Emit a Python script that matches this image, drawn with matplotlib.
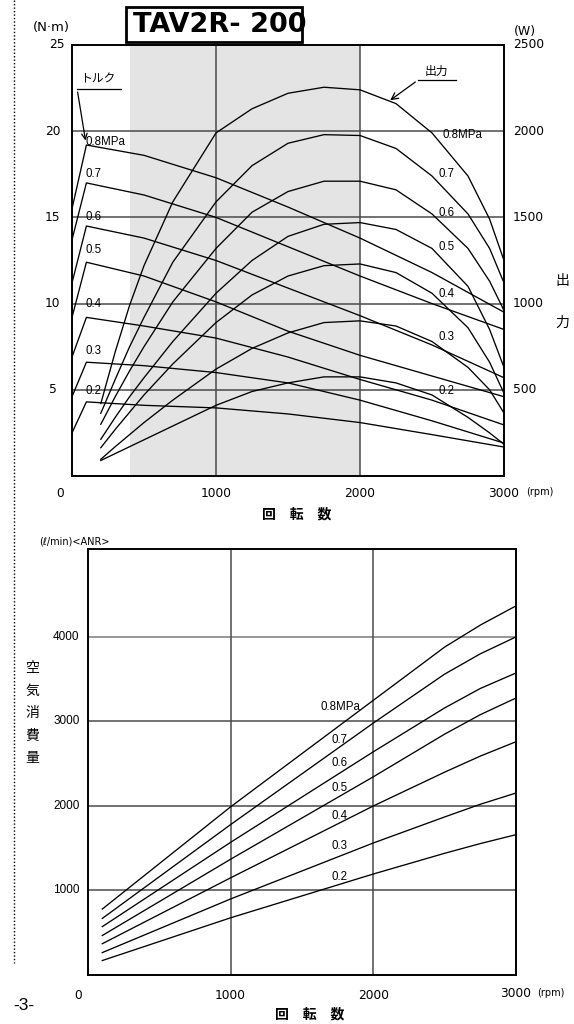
import matplotlib
matplotlib.use("Agg")
import matplotlib.pyplot as plt
from matplotlib.patches import Rectangle
from matplotlib.lines import Line2D

JP = ['Noto Sans CJK JP', 'DejaVu Sans']
plt.rcParams['font.family'] = ['DejaVu Sans', 'Noto Sans CJK JP']

# ---------------- data: torque / output (top chart) ----------------
pressures = ['0.8', '0.7', '0.6', '0.5', '0.4', '0.3', '0.2']

torque_rpm = [0, 100, 500, 1000, 1500, 2000, 2500, 3000]
torque = {
    '0.8': [15.5, 19.2, 18.6, 17.3, 15.6, 13.8, 11.8, 9.5],
    '0.7': [13.7, 17.0, 16.3, 15.0, 13.3, 11.6, 10.0, 8.5],
    '0.6': [11.2, 14.5, 13.8, 12.5, 10.9, 9.3, 7.6, 5.7],
    '0.5': [9.2, 12.4, 11.6, 10.1, 8.4, 7.0, 5.8, 4.6],
    '0.4': [6.9, 9.2, 8.7, 8.0, 6.9, 5.6, 4.4, 2.96],
    '0.3': [4.6, 6.6, 6.4, 6.0, 5.4, 4.4, 3.2, 1.91],
    '0.2': [2.5, 4.3, 4.1, 3.95, 3.6, 3.1, 2.4, 1.68],
}

power_rpm = [200, 300, 400, 500, 700, 1000, 1250, 1500, 1750, 2000, 2250, 2500, 2750, 2900, 3000]
power = {  # x100 W
    '0.8': [4.2, 7.2, 9.9, 12.2, 15.9, 19.9, 21.3, 22.2, 22.55, 22.4, 21.6, 19.9, 17.4, 14.9, 12.5],
    '0.7': [3.64, 5.6, 7.5, 9.2, 12.4, 15.9, 18.0, 19.3, 19.8, 19.75, 19.0, 17.4, 15.2, 13.2, 11.2],
    '0.6': [3.0, 4.6, 6.1, 7.5, 10.1, 13.2, 15.3, 16.5, 17.1, 17.1, 16.6, 15.2, 13.2, 11.3, 9.6],
    '0.5': [2.13, 3.4, 4.6, 5.7, 7.8, 10.6, 12.5, 13.9, 14.6, 14.7, 14.3, 13.2, 11.0, 8.5, 6.3],
    '0.4': [1.64, 2.7, 3.7, 4.7, 6.5, 8.9, 10.5, 11.6, 12.2, 12.3, 11.8, 10.6, 8.6, 6.6, 4.8],
    '0.3': [0.97, 1.7, 2.4, 3.1, 4.4, 6.2, 7.4, 8.3, 8.9, 9.0, 8.7, 7.8, 6.3, 5.0, 3.65],
    '0.2': [0.9, 1.3, 1.7, 2.1, 2.9, 4.1, 4.9, 5.4, 5.75, 5.75, 5.4, 4.7, 3.4, 2.5, 1.84],
}

torque_label_pos = [(97, 19.37), (97, 17.5), (97, 15.0), (97, 13.1), (97, 9.98), (97, 7.25), (97, 4.93)]
power_label_pos = [(2576, 19.78), (2542, 17.5), (2542, 15.25), (2542, 13.28), (2542, 10.56), (2542, 8.06), (2542, 4.93)]

top_left_ticks = [5, 10, 15, 20, 25]
top_right_ticks = [500, 1000, 1500, 2000, 2500]
rpm_ticks = [0, 1000, 2000, 3000]

# ---------------- data: air consumption (bottom chart) ----------------
air_rpm = [100, 1000, 2000, 2500, 2750, 3000]
air = {
    '0.8': [780, 1990, 3250, 3880, 4140, 4367],
    '0.7': [669, 1780, 2981, 3560, 3800, 4000],
    '0.6': [572, 1570, 2641, 3160, 3390, 3573],
    '0.5': [467, 1370, 2345, 2850, 3080, 3277],
    '0.4': [370, 1150, 2000, 2400, 2590, 2760],
    '0.3': [265, 900, 1562, 1870, 2020, 2153],
    '0.2': [171, 677, 1195, 1440, 1555, 1660],
}
air_label_pos = [(1766, 3172), (1766, 2781), (1766, 2509), (1766, 2213), (1766, 1882), (1766, 1527), (1766, 1160)]
air_ticks = [1000, 2000, 3000, 4000]

# ---------------- figure ----------------
W, H = 574, 1024
fig = plt.figure(figsize=(W / 100, H / 100), dpi=100)


def fx(x):
    return x / W


def fy(y):
    return 1 - y / H


GRID = '#4a4a4a'
LW = 0.95

# ---- top chart
ax1 = fig.add_axes([fx(72), fy(476), 432 / W, 431 / H])
ax1.set_xlim(0, 3000)
ax1.set_ylim(0, 25)
ax1.axvspan(400, 2000, color='#e4e4e4', lw=0, zorder=0)
for v in top_left_ticks[:-1]:
    ax1.axhline(v, color=GRID, lw=1.1, zorder=1)
for v in rpm_ticks[1:-1]:
    ax1.axvline(v, color=GRID, lw=1.1, zorder=1)
for p in pressures:
    ax1.plot(torque_rpm, torque[p], color='black', lw=LW, zorder=3)
    ax1.plot(power_rpm, power[p], color='black', lw=LW, zorder=3)
for i, p in enumerate(pressures):
    t = p + 'MPa' if i == 0 else p
    x, y = torque_label_pos[i]
    ax1.text(x, y, t, fontsize=8.3, family='Liberation Sans', va='center', ha='left', zorder=4)
    x, y = power_label_pos[i]
    ax1.text(x, y, t, fontsize=8.3, family='Liberation Sans', va='center', ha='left', zorder=4)
ax1.set_xticks([])
ax1.set_yticks([])
for s in ax1.spines.values():
    s.set_linewidth(1.4)

tl = ax1.get_yaxis_transform()
for v in top_left_ticks:
    ax1.text(-0.045 if v != 25 else -0.035, v, str(v), transform=tl, ha='center', va='center', fontsize=8.8)
for v in top_right_ticks:
    ax1.text(1.02, v / 100, str(v), transform=tl, ha='left', va='center', fontsize=8.8)
tx = ax1.get_xaxis_transform()
for v in rpm_ticks:
    if v == 0:
        ax1.text(-0.028, -0.04, '0', transform=ax1.transAxes, ha='center', va='center', fontsize=8.8)
    else:
        ax1.text(v, -0.04, str(v), transform=tx, ha='center', va='center', fontsize=8.8)
ax1.text(1.052, -0.037, '(rpm)', transform=ax1.transAxes, ha='left', va='center', fontsize=7)

# annotations: トルク / 出力
ax1.text(0.018, 0.921, 'トルク', transform=ax1.transAxes, family=JP, fontsize=8.5, ha='left', va='center')
ax1.add_line(Line2D([0.012, 0.113], [0.897, 0.897], transform=ax1.transAxes, color='black', lw=0.9))
ax1.annotate('', xy=(97, 19.3), xytext=(0.012, 0.897), textcoords=ax1.transAxes,
             arrowprops=dict(arrowstyle='->', color='black', lw=0.9, mutation_scale=10))
ax1.text(0.843, 0.94, '出力', transform=ax1.transAxes, family=JP, fontsize=8.5, ha='center', va='center')
ax1.add_line(Line2D([0.8, 0.888], [0.918, 0.918], transform=ax1.transAxes, color='black', lw=0.9))
ax1.annotate('', xy=(2194, 21.7), xytext=(0.8, 0.918), textcoords=ax1.transAxes,
             arrowprops=dict(arrowstyle='->', color='black', lw=0.9, mutation_scale=12))

fig.text(fx(51), fy(28), '(N·m)', ha='center', va='center', fontsize=9.5)
fig.text(fx(525), fy(32), '(W)', ha='center', va='center', fontsize=9)
fig.text(fx(562), fy(281), '出', family=JP, ha='center', va='center', fontsize=10)
fig.text(fx(562), fy(323), '力', family=JP, ha='center', va='center', fontsize=10)
fig.text(fx(297), fy(514), '回　転　数', family=JP, ha='center', va='center', fontsize=10, weight='bold')

# title box
fig.patches.append(Rectangle((fx(126), fy(42)), (302 - 126) / W, 35 / H, transform=fig.transFigure,
                             fill=False, ec='black', lw=2.0))
fig.text(fx(133), fy(25), 'TAV2R- 200', ha='left', va='center', fontsize=19.5, weight='bold')

# ---- bottom chart
ax2 = fig.add_axes([fx(88), fy(975), 428 / W, 426 / H])
ax2.set_xlim(0, 3000)
ax2.set_ylim(0, 5040)
for v in air_ticks:
    ax2.axhline(v, color=GRID if v != 4000 else '#7a7a7a', lw=1.1, zorder=1)
for v in rpm_ticks[1:-1]:
    ax2.axvline(v, color=GRID, lw=1.1, zorder=1)
for p in pressures:
    ax2.plot(air_rpm, air[p], color='black', lw=LW, zorder=3)
for i, p in enumerate(pressures):
    t = p + 'MPa' if i == 0 else p
    x, y = air_label_pos[i]
    ax2.text(x, y, t, fontsize=8.3, family='Liberation Sans', va='center', ha='center', zorder=4)
ax2.set_xticks([])
ax2.set_yticks([])
for s in ax2.spines.values():
    s.set_linewidth(1.4)
tl2 = ax2.get_yaxis_transform()
for v in air_ticks:
    ax2.text(-0.02, v, str(v), transform=tl2, ha='right', va='center', fontsize=8.5, family='Liberation Sans')
tx2 = ax2.get_xaxis_transform()
for v in rpm_ticks:
    if v == 0:
        ax2.text(-0.024, -0.047, '0', transform=ax2.transAxes, ha='center', va='center', fontsize=8.8)
    elif v == 3000:
        ax2.text(v, -0.043, str(v), transform=tx2, ha='center', va='center', fontsize=8.8)
    else:
        ax2.text(v, -0.047, str(v), transform=tx2, ha='center', va='center', fontsize=8.8)
ax2.text(1.05, -0.042, '(rpm)', transform=ax2.transAxes, ha='left', va='center', fontsize=7)

fig.text(fx(39), fy(541), '(ℓ/min)<ANR>', ha='left', va='center', fontsize=7)
for k, ch in enumerate('空気消費量'):
    fig.text(fx(32), fy(668 + k * 22.5), ch, family=JP, ha='center', va='center', fontsize=10)
fig.text(fx(310), fy(1015), '回　転　数', family=JP, ha='center', va='center', fontsize=10, weight='bold')
fig.text(fx(24), fy(1006), '-3-', ha='center', va='center', fontsize=12.5, family='Liberation Sans')

# dotted margin line
fig.add_artist(Line2D([fx(14), fx(14)], [fy(0), fy(963)], transform=fig.transFigure,
                      color='black', lw=1.0, ls=(0, (1, 1.5))))

fig.savefig('out.png', dpi=100)
